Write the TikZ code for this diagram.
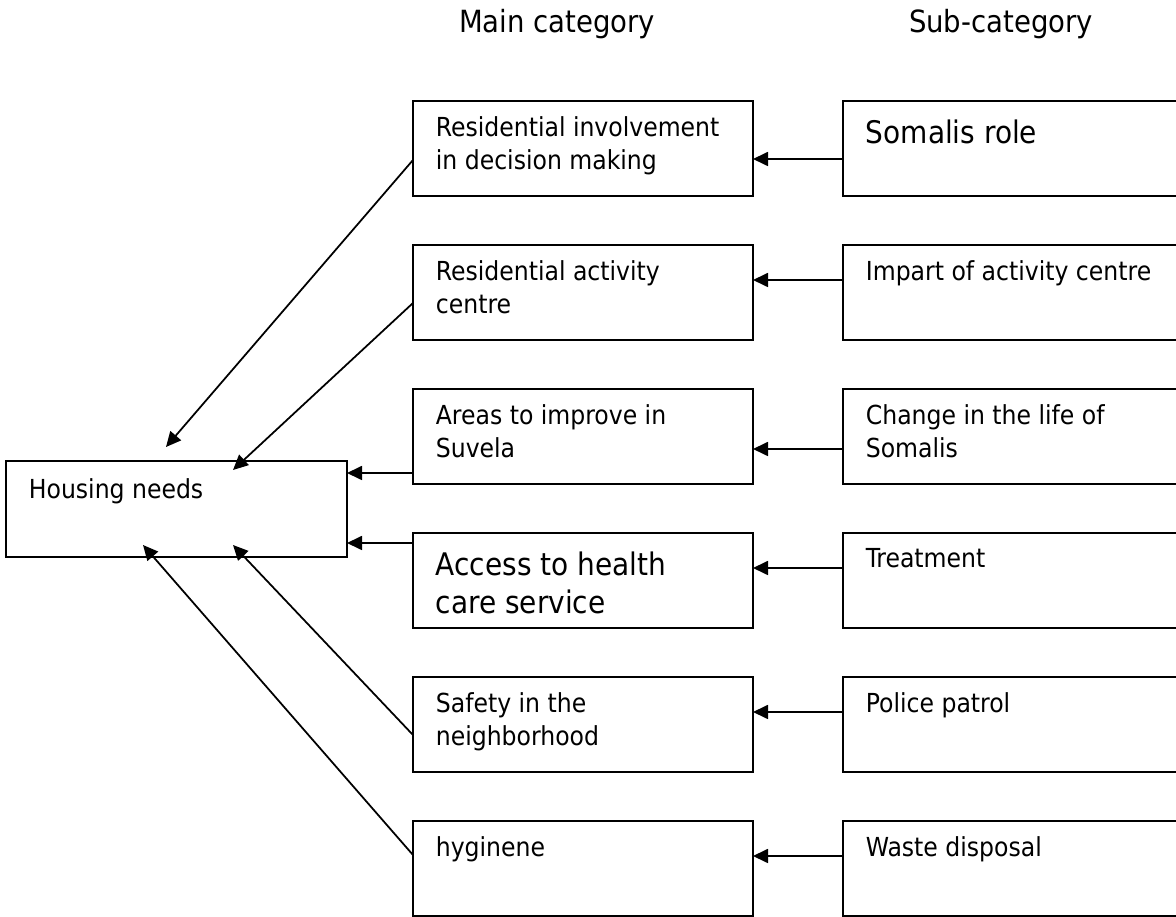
\documentclass[tikz,border=0pt]{standalone}
\usepackage{fontspec}
\setmainfont{DejaVu Sans Condensed}
\usetikzlibrary{positioning, arrows.meta}

\begin{document}
\begin{tikzpicture}[node distance=0.98cm, line width=1pt,
        box/.style = {draw, rectangle, minimum width=6.8cm, minimum height=1.9cm, inner sep=0pt, outer sep=0pt},
        sub/.style = {box, minimum width=8cm},
        txt/.style = {anchor=north west, inner sep=0pt, align=left, xshift=0.44cm, yshift=-0.3cm, font=\fontsize{14.9}{18.8}\selectfont},
        big/.style = {anchor=north west, inner sep=0pt, align=left, xshift=0.44cm, yshift=-0.36cm, font=\fontsize{17.7}{21.6}\selectfont},
        head/.style = {anchor=base, font=\fontsize{17.4}{20}\selectfont},
        arr/.style = {-{Triangle[length=0.3cm, width=0.28cm]}}]
        \useasboundingbox (0,0) rectangle (23.52,-18.34);

        \node[head] (mt) at (11.14,-0.66) {Main category};
        \node[head] (st) at (20.02,-0.66) {Sub-category};

        \node[box, minimum width=6.82cm, minimum height=1.92cm, anchor=north west, label={[txt, yshift=-0.04cm]north west:Housing needs}] (h) at (0.12,-9.22) {};

        \node[box, anchor=north west, label={[txt]north west:Residential involvement\\in decision making}] (m1) at (8.26,-2.02) {};
        \node[box, below=of m1, label={[txt]north west:Residential activity\\centre}] (m2) {};
        \node[box, below=of m2, label={[txt]north west:Areas to improve in\\Suvela}] (m3) {};
        \node[box, below=of m3, label={[big]north west:Access to health\\care service}] (m4) {};
        \node[box, below=of m4, label={[txt]north west:Safety in the\\neighborhood}] (m5) {};
        \node[box, below=of m5, label={[txt]north west:hyginene}] (m6) {};

        \node[sub, right=1.8cm of m1, label={[big]north west:Somalis role}] (s1) {};
        \node[sub, right=1.8cm of m2, label={[txt]north west:Impart of activity centre}] (s2) {};
        \node[sub, right=1.8cm of m3, label={[txt]north west:Change in the life of\\Somalis}] (s3) {};
        \node[sub, right=1.8cm of m4, label={[txt]north west:Treatment}] (s4) {};
        \node[sub, right=1.8cm of m5, label={[txt]north west:Police patrol}] (s5) {};
        \node[sub, right=1.8cm of m6, label={[txt]north west:Waste disposal}] (s6) {};

        \coordinate (t1) at (3.32,-8.94);
        \coordinate (t2) at (4.66,-9.40);
        \coordinate (t5) at (4.66,-10.90);
        \coordinate (t6) at (2.86,-10.90);

        \draw[arr] ([yshift=-1.16cm]s1.north west) -- ([yshift=-1.16cm]m1.north east);
        \draw[arr] ([yshift=-0.7cm]s2.north west) -- ([yshift=-0.7cm]m2.north east);
        \draw[arr] ([yshift=-1.2cm]s3.north west) -- ([yshift=-1.2cm]m3.north east);
        \draw[arr] ([yshift=-0.7cm]s4.north west) -- ([yshift=-0.7cm]m4.north east);
        \draw[arr] ([yshift=-0.7cm]s5.north west) -- ([yshift=-0.7cm]m5.north east);
        \draw[arr] ([yshift=-0.7cm]s6.north west) -- ([yshift=-0.7cm]m6.north east);

        \draw[arr] ([yshift=-1.18cm]m1.north west) -- (t1);
        \draw[arr] ([yshift=-1.16cm]m2.north west) -- (t2);
        \draw[arr] ([yshift=-1.68cm]m3.north west) coordinate (a3) -- (a3 -| h.east);
        \draw[arr] ([yshift=-0.2cm]m4.north west) coordinate (a4) -- (a4 -| h.east);
        \draw[arr] ([yshift=-1.16cm]m5.north west) -- (t5);
        \draw[arr] ([yshift=-0.68cm]m6.north west) -- (t6);

    \end{tikzpicture}
\end{document}
